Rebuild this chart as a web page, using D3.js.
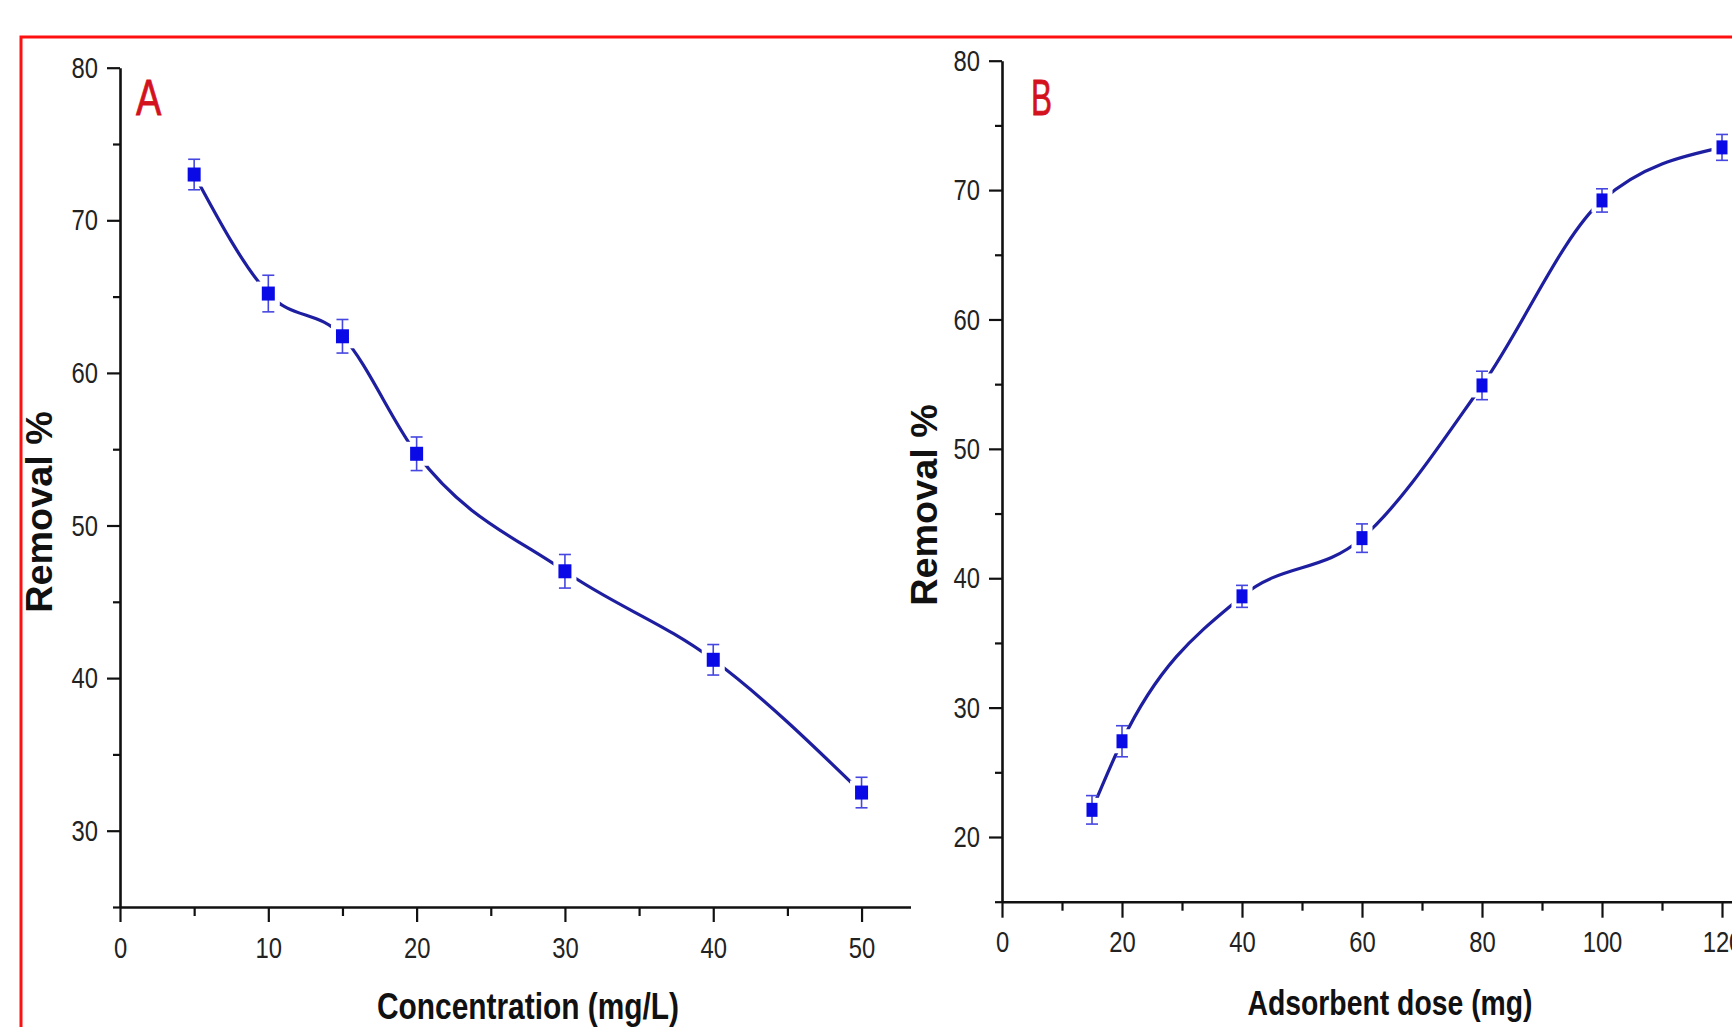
<!DOCTYPE html>
<html lang="en">
  <head>
    <meta charset="utf-8">
    <title>Removal %</title>
    <style>
      body { margin: 0; background: #fff; overflow: hidden; }
      svg { display: block; }
      .tick text { font-family: "Liberation Sans", Arial, sans-serif; fill: #222; }
    </style>
    <script src="https://cdn.jsdelivr.net/npm/d3@7"></script>
  </head>
  <body>
    <script>

      // panel A: effect of initial concentration
      const concA    = [5, 10, 15, 20, 30, 40, 50];
      const removalA = [73.0, 65.2, 62.4, 54.7, 47.0, 41.2, 32.5];
      const errA     = [1.0, 1.2, 1.1, 1.1, 1.1, 1.0, 1.0];

      // panel B: effect of adsorbent dose
      const doseB    = [15, 20, 40, 60, 80, 100, 120];
      const removalB = [22.1, 27.4, 38.6, 43.1, 54.9, 69.2, 73.3];
      const errB     = [1.1, 1.2, 0.85, 1.1, 1.1, 0.9, 1.0];

      // tick values
      const xTicksA      = [0, 10, 20, 30, 40, 50];
      const xMinorTicksA = [5, 15, 25, 35, 45];
      const yTicksA      = [30, 40, 50, 60, 70, 80];
      const yMinorTicksA = [25, 35, 45, 55, 65, 75];

      const xTicksB      = [0, 20, 40, 60, 80, 100, 120];
      const xMinorTicksB = [10, 30, 50, 70, 90, 110, 130];
      const yTicksB      = [20, 30, 40, 50, 60, 70, 80];
      const yMinorTicksB = [15, 25, 35, 45, 55, 65, 75];

      const width = 1732, height = 1027;

      const svg = d3.select('body').append('svg')
                    .attr('width', width)
                    .attr('height', height);

      // red frame (only top and left edges are inside the crop)
      svg.append('path')
         .attr('d', `M21,${height + 10} L21,37 L${width + 10},37`)
         .attr('fill', 'none')
         .attr('stroke', '#ff1010')
         .attr('stroke-width', 3);

      const navy = '#1e1ea0';

      // no narrow font installed, so squeeze the glyphs instead
      function narrow(sel, k) {
        sel.each(function() {
          const len = this.getComputedTextLength();
          d3.select(this).attr('textLength', len * k).attr('lengthAdjust', 'spacingAndGlyphs');
        });
      }

      function drawPanel(p) {
        const x = d3.scaleLinear().domain(p.xDomain).range(p.xRange);
        const y = d3.scaleLinear().domain(p.yDomain).range(p.yRange);
        const g = svg.append('g');

        // minor ticks first, so the major axis line sits on top
        g.append('g')
         .attr('transform', `translate(0,${p.yRange[0]})`)
         .call(d3.axisBottom(x).tickValues(p.xMinor).tickSize(p.xMinorLen).tickFormat(''))
         .call(a => a.select('.domain').remove());
        g.append('g')
         .attr('transform', `translate(${p.xRange[0]},0)`)
         .call(d3.axisLeft(y).tickValues(p.yMinor).tickSize(7).tickFormat(''))
         .call(a => a.select('.domain').remove());

        const xAxis = g.append('g')
         .attr('transform', `translate(0,${p.yRange[0]})`)
         .call(d3.axisBottom(x).tickValues(p.xTicks).tickSize(p.xMajorLen).tickSizeOuter(0).tickPadding(p.xPad));
        const yAxis = g.append('g')
         .attr('transform', `translate(${p.xRange[0]},0)`)
         .call(d3.axisLeft(y).tickValues(p.yTicks).tickSize(13).tickSizeOuter(0).tickPadding(9));

        g.selectAll('.domain').attr('stroke', '#111').attr('stroke-width', 2.6);
        g.selectAll('.tick line').attr('stroke', '#111').attr('stroke-width', 2.2);
        xAxis.selectAll('text').style('font-size', '29px').call(narrow, 0.82);
        yAxis.selectAll('text').style('font-size', '29px').attr('dy', '0.33em').call(narrow, 0.82);

        // panel letter
        g.append('text')
         .attr('x', p.letterX).attr('y', 115)
         .attr('fill', '#d3121e')
         .style('font-family', '"Liberation Sans", sans-serif')
         .style('font-size', '50px')
         .style('stroke', '#d3121e')
         .style('stroke-width', 0.8)
         .text(p.letter)
         .call(narrow, p.letterK);

        // axis titles
        g.append('text')
         .attr('transform', `translate(${p.yTitleX},${p.yTitleY}) rotate(-90)`)
         .attr('text-anchor', 'middle')
         .attr('fill', '#111')
         .style('font-family', '"Liberation Sans", Arial, sans-serif')
         .style('font-weight', 'bold')
         .style('font-size', '36px')
         .text('Removal %')
         .call(narrow, 1.05);

        g.append('text')
         .attr('x', p.xTitleX).attr('y', p.xTitleY)
         .attr('text-anchor', 'middle')
         .attr('fill', '#111')
         .style('font-family', '"Liberation Sans", Arial, sans-serif')
         .style('font-weight', 'bold')
         .style('font-size', p.xTitleSize + 'px')
         .text(p.xTitle)
         .call(narrow, p.xTitleK);

        const pts = p.xs.map((v, i) => ({ x: v, y: p.ys[i], e: p.errs[i] }));

        // smooth connecting line
        const line = d3.line()
                       .x(d => x(d.x))
                       .y(d => y(d.y))
                       .curve(d3.curveMonotoneX);
        g.append('path')
         .datum(pts)
         .attr('d', line)
         .attr('fill', 'none')
         .attr('stroke', navy)
         .attr('stroke-width', 3.2);

        // white gap round each symbol, like Origin does
        g.selectAll('.gap').data(pts).enter().append('rect')
         .attr('x', d => x(d.x) - p.mw / 2 - 5)
         .attr('y', d => y(d.y) - p.mh / 2 - 5)
         .attr('width', p.mw + 10)
         .attr('height', p.mh + 10)
         .attr('fill', '#fff');

        // error bars
        const eb = g.selectAll('.err').data(pts).enter().append('g')
                    .attr('stroke', '#4646e0')
                    .attr('stroke-width', 1.6);
        eb.append('line')
          .attr('x1', d => x(d.x)).attr('x2', d => x(d.x))
          .attr('y1', d => y(d.y + d.e)).attr('y2', d => y(d.y - d.e));
        eb.append('line')
          .attr('x1', d => x(d.x) - 6).attr('x2', d => x(d.x) + 6)
          .attr('y1', d => y(d.y + d.e)).attr('y2', d => y(d.y + d.e));
        eb.append('line')
          .attr('x1', d => x(d.x) - 6).attr('x2', d => x(d.x) + 6)
          .attr('y1', d => y(d.y - d.e)).attr('y2', d => y(d.y - d.e));

        // square symbols
        g.selectAll('.sym').data(pts).enter().append('rect')
         .attr('x', d => x(d.x) - p.mw / 2)
         .attr('y', d => y(d.y) - p.mh / 2)
         .attr('width', p.mw)
         .attr('height', p.mh)
         .attr('fill', '#0a0ae6');
      }

      drawPanel({
        letter: 'A', letterX: 136, letterK: 0.76,
        xs: concA, ys: removalA, errs: errA,
        xDomain: [0, 53.3], xRange: [120, 910.5],
        yDomain: [25, 80], yRange: [907, 67.7],
        xTicks: xTicksA, xMinor: xMinorTicksA, xMajorLen: 15, xMinorLen: 9, xPad: 15,
        yTicks: yTicksA, yMinor: yMinorTicksA,
        yTitleX: 52, yTitleY: 512,
        xTitle: 'Concentration (mg/L)', xTitleX: 528, xTitleY: 1019, xTitleSize: 36, xTitleK: 0.83,
        mw: 13, mh: 14
      });

      drawPanel({
        letter: 'B', letterX: 1031, letterK: 0.63,
        xs: doseB, ys: removalB, errs: errB,
        xDomain: [0, 130], xRange: [1002, 1782],
        yDomain: [15, 80], yRange: [901.7, 60.7],
        xTicks: xTicksB, xMinor: xMinorTicksB, xMajorLen: 16, xMinorLen: 9, xPad: 14,
        yTicks: yTicksB, yMinor: yMinorTicksB,
        yTitleX: 937, yTitleY: 505,
        xTitle: 'Adsorbent dose (mg)', xTitleX: 1390, xTitleY: 1015, xTitleSize: 35, xTitleK: 0.81,
        mw: 11, mh: 14
      });
    </script>
  </body>
</html>
